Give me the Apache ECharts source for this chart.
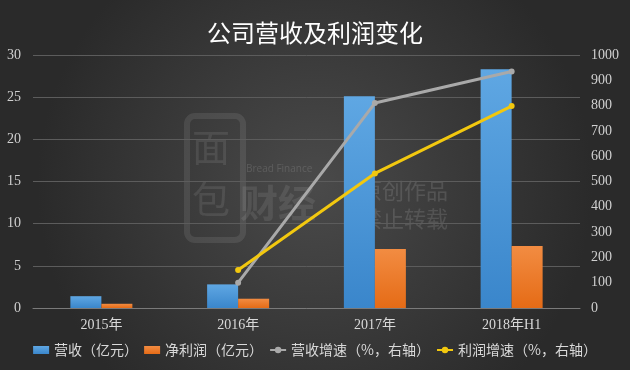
<!DOCTYPE html>
<html><head><meta charset="utf-8">
<style>html,body{margin:0;padding:0;background:#333;}#c{width:630px;height:370px;}</style>
<script src="https://cdn.jsdelivr.net/npm/echarts@6/dist/echarts.min.js"></script>
</head><body><div id="c"></div>
<script>
const categories = ['2015年', '2016年', '2017年', '2018年H1'];
const revenue = [1.4, 2.8, 25.1, 28.3];
const netProfit = [0.5, 1.1, 7.0, 7.35];
const revenueGrowth = [null, 100, 810, 935];
const profitGrowth = [null, 150, 532, 798];
const leftTicks = {min: 0, max: 30, interval: 5};
const rightTicks = {min: 0, max: 1000, interval: 100};

const chart = echarts.init(document.getElementById('c'), null, {renderer: 'canvas'});
const axisFont = '"Liberation Serif","Noto Sans CJK SC",serif';
const cjk = '"Noto Sans CJK SC","Microsoft YaHei",sans-serif';
chart.setOption({
  backgroundColor: {type: 'radial', x: 0.5, y: 0.5, r: 0.75,
    colorStops: [{offset: 0, color: '#4a4a4a'}, {offset: 1, color: '#2a2a2a'}]},
  animation: false,
  title: {text: '公司营收及利润变化', left: 'center', top: 16,
    textStyle: {color: '#ffffff', fontSize: 24, fontWeight: 'normal', fontFamily: cjk}},
  graphic: [
    {type: 'rect', left: 184, top: 113, shape: {width: 56, height: 124, r: 8},
      style: {fill: 'none', stroke: 'rgba(255,255,255,0.09)', lineWidth: 6}, silent: true},
    {type: 'text', left: 192, top: 128, style: {text: '面', fill: 'rgba(255,255,255,0.09)', font: '38px ' + cjk}, silent: true},
    {type: 'text', left: 192, top: 180, style: {text: '包', fill: 'rgba(255,255,255,0.09)', font: '38px ' + cjk}, silent: true},
    {type: 'text', left: 240, top: 184, style: {text: '财经', fill: 'rgba(255,255,255,0.09)', font: 'bold 38px ' + cjk}, silent: true},
    {type: 'text', left: 246, top: 164, style: {text: 'Bread Finance', fill: 'rgba(255,255,255,0.13)', font: '10px "Open Sans",sans-serif'}, silent: true},
    {type: 'text', left: 360, top: 180, style: {text: '原创作品', fill: 'rgba(255,255,255,0.12)', font: '22px ' + cjk}, silent: true},
    {type: 'text', left: 360, top: 208, style: {text: '禁止转载', fill: 'rgba(255,255,255,0.12)', font: '22px ' + cjk}, silent: true}
  ],
  legend: {
    bottom: 8, left: 'center', itemGap: 6, itemWidth: 16, itemHeight: 8,
    textStyle: {color: '#d9d9d9', fontSize: 14, fontFamily: cjk},
    data: [
      {name: '营收（亿元）', icon: 'rect'},
      {name: '净利润（亿元）', icon: 'rect'},
      {name: '营收增速（%，右轴）'},
      {name: '利润增速（%，右轴）'}
    ]
  },
  grid: {left: 33, right: 50, top: 55, bottom: 62},
  xAxis: {
    type: 'category', data: categories,
    axisLine: {lineStyle: {color: '#7a7a7a'}},
    axisTick: {show: false},
    axisLabel: {color: '#d9d9d9', fontSize: 14, fontFamily: axisFont, margin: 10}
  },
  yAxis: [
    {type: 'value', min: leftTicks.min, max: leftTicks.max, interval: leftTicks.interval,
      axisLine: {show: false}, axisTick: {show: false},
      axisLabel: {color: '#d0d0d0', fontSize: 14, fontFamily: axisFont, margin: 12},
      splitLine: {lineStyle: {color: '#5c5c5c', width: 1}}},
    {type: 'value', min: rightTicks.min, max: rightTicks.max, interval: rightTicks.interval,
      axisLine: {show: false}, axisTick: {show: false},
      axisLabel: {color: '#d0d0d0', fontSize: 14, fontFamily: axisFont, margin: 11,
        formatter: v => String(v)},
      splitLine: {show: false}}
  ],
  series: [
    {name: '营收（亿元）', type: 'bar', data: revenue, barWidth: 31, barGap: '0%',
      itemStyle: {color: new echarts.graphic.LinearGradient(0, 0, 0, 1,
        [{offset: 0, color: '#5fa7e3'}, {offset: 1, color: '#3a86cb'}])}},
    {name: '净利润（亿元）', type: 'bar', data: netProfit, barWidth: 31, barGap: '0%',
      itemStyle: {color: new echarts.graphic.LinearGradient(0, 0, 0, 1,
        [{offset: 0, color: '#f28c42'}, {offset: 1, color: '#e56b16'}])}},
    {name: '营收增速（%，右轴）', type: 'line', yAxisIndex: 1, data: revenueGrowth,
      symbol: 'circle', symbolSize: 6, lineStyle: {color: '#a9a9a9', width: 3},
      itemStyle: {color: '#a9a9a9'}},
    {name: '利润增速（%，右轴）', type: 'line', yAxisIndex: 1, data: profitGrowth,
      symbol: 'circle', symbolSize: 6, lineStyle: {color: '#f2c80f', width: 3},
      itemStyle: {color: '#f2c80f'}}
  ]
});
</script></body></html>
